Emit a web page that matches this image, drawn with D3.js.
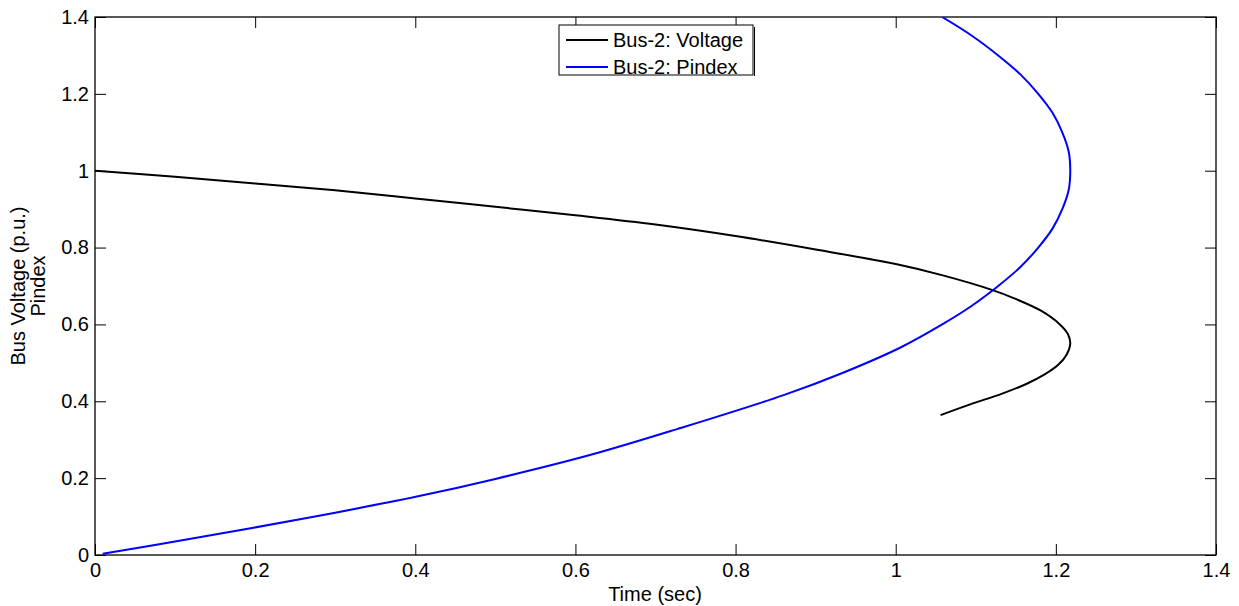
<!DOCTYPE html>
<html>
<head>
<meta charset="utf-8">
<script src="https://cdn.jsdelivr.net/npm/d3@7"></script>
<style>
  html, body { margin: 0; padding: 0; background: #fff; }
  svg { display: block; }
  text { font-family: "Liberation Sans", Arial, Helvetica, sans-serif; }
</style>
</head>
<body>
<svg id="chart" width="1239" height="606"></svg>
<script>
// ---- Data ----
const xTicks = [0, 0.2, 0.4, 0.6, 0.8, 1, 1.2, 1.4];
const yTicks = [0, 0.2, 0.4, 0.6, 0.8, 1, 1.2, 1.4];
const xTickLabels = ["0", "0.2", "0.4", "0.6", "0.8", "1", "1.2", "1.4"];
const yTickLabels = ["0", "0.2", "0.4", "0.6", "0.8", "1", "1.2", "1.4"];

const seriesNames = ["Bus-2: Voltage", "Bus-2: Pindex"];
const seriesColors = ["#000000", "#0000ff"];

const voltageX = [0, 0.1, 0.2, 0.3, 0.4, 0.5, 0.6, 0.7, 0.8, 0.9, 1.0, 1.06, 1.12, 1.148, 1.182, 1.205, 1.215, 1.218, 1.213, 1.203, 1.186, 1.163, 1.133, 1.093, 1.056];
const voltageY = [1.0, 0.984, 0.967, 0.949, 0.928, 0.906, 0.884, 0.860, 0.830, 0.795, 0.757, 0.727, 0.690, 0.668, 0.635, 0.600, 0.575, 0.550, 0.520, 0.495, 0.470, 0.445, 0.420, 0.392, 0.364];

const pindexX = [0.0096, 0.1, 0.198, 0.3, 0.402, 0.5, 0.618, 0.726, 0.86, 0.935, 1.006, 1.058, 1.096, 1.128, 1.156, 1.178, 1.196, 1.208, 1.216, 1.218, 1.216, 1.208, 1.196, 1.178, 1.156, 1.128, 1.096, 1.058];
const pindexY = [0.003, 0.035, 0.071, 0.110, 0.152, 0.198, 0.260, 0.327, 0.416, 0.475, 0.540, 0.600, 0.650, 0.700, 0.750, 0.800, 0.850, 0.900, 0.950, 1.000, 1.050, 1.100, 1.150, 1.200, 1.250, 1.300, 1.350, 1.400];

// ---- Layout ----
const svg = d3.select("#chart");
const L = 95, R = 1216, T = 17, B = 555;
const x = d3.scaleLinear().domain([0, 1.4]).range([L, R]);
const y = d3.scaleLinear().domain([0, 1.4]).range([B, T]);
const tickLen = 11;
const fontSize = 20;

svg.append("defs").append("clipPath").attr("id", "clip")
  .append("rect").attr("x", L).attr("y", T).attr("width", R - L).attr("height", B - T);

// ---- Axes (ticks inward on all four sides) ----
const xAxisB = d3.axisBottom(x).tickValues(xTicks).tickSize(-tickLen).tickPadding(8)
  .tickFormat((d, i) => xTickLabels[i]);
const gxb = svg.append("g").attr("transform", `translate(0,${B})`).call(xAxisB);
const xAxisT = d3.axisTop(x).tickValues(xTicks).tickSize(-tickLen).tickFormat("");
const gxt = svg.append("g").attr("transform", `translate(0,${T})`).call(xAxisT);
const yAxisL = d3.axisLeft(y).tickValues(yTicks).tickSize(-tickLen).tickPadding(6)
  .tickFormat((d, i) => yTickLabels[i]);
const gyl = svg.append("g").attr("transform", `translate(${L},0)`).call(yAxisL);
const yAxisR = d3.axisRight(y).tickValues(yTicks).tickSize(-tickLen).tickFormat("");
const gyr = svg.append("g").attr("transform", `translate(${R},0)`).call(yAxisR);

[gxb, gxt, gyl, gyr].forEach(g => {
  g.select(".domain").remove();
  g.selectAll(".tick line").attr("stroke", "#000").attr("stroke-width", 1);
  g.selectAll(".tick text").attr("fill", "#000").style("font-size", fontSize + "px")
    .style("font-family", "'Liberation Sans', Arial, Helvetica, sans-serif");
});
gxb.selectAll(".tick text").attr("dy", "0.71em");

svg.append("rect").attr("x", L).attr("y", T).attr("width", R - L).attr("height", B - T)
  .attr("fill", "none").attr("stroke", "#000").attr("stroke-width", 1.3);

// ---- Lines ----
const line = d3.line().x(d => x(d[0])).y(d => y(d[1])).curve(d3.curveCatmullRom.alpha(0.5));
const voltage = voltageX.map((v, i) => [v, voltageY[i]]);
const pindex = pindexX.map((v, i) => [v, pindexY[i]]);

const gLines = svg.append("g").attr("clip-path", "url(#clip)");
gLines.append("path").datum(voltage).attr("d", line)
  .attr("fill", "none").attr("stroke", seriesColors[0]).attr("stroke-width", 2);
gLines.append("path").datum(pindex).attr("d", line)
  .attr("fill", "none").attr("stroke", seriesColors[1]).attr("stroke-width", 2);

// ---- Legend ----
const lgX = 559, lgY = 25, lgW = 194, lgH = 50;
svg.append("line").attr("x1", lgX + lgW + 1.5).attr("x2", lgX + lgW + 1.5)
  .attr("y1", lgY + 2).attr("y2", lgY + lgH + 1).attr("stroke", "#000").attr("stroke-width", 1);
svg.append("rect").attr("x", lgX).attr("y", lgY).attr("width", lgW).attr("height", lgH)
  .attr("fill", "#fff").attr("stroke", "#000").attr("stroke-width", 1);
seriesNames.forEach((name, i) => {
  const cy = lgY + 15 + i * 27;
  svg.append("line").attr("x1", lgX + 7).attr("x2", lgX + 49).attr("y1", cy).attr("y2", cy)
    .attr("stroke", seriesColors[i]).attr("stroke-width", 2);
  svg.append("text").attr("x", lgX + 54).attr("y", cy).attr("dy", "0.35em")
    .style("font-size", fontSize + "px").attr("fill", "#000").text(name);
});

// ---- Axis titles ----
svg.append("text").attr("x", 655).attr("y", 601).attr("text-anchor", "middle")
  .style("font-size", fontSize + "px").attr("fill", "#000").text("Time (sec)");
const yl = svg.append("text").attr("transform", `translate(25,${(T + B) / 2}) rotate(-90)`)
  .attr("text-anchor", "middle").style("font-size", fontSize + "px").attr("fill", "#000");
yl.append("tspan").attr("x", 0).attr("dy", "0").text("Bus Voltage (p.u.)");
yl.append("tspan").attr("x", 0).attr("dy", "1.0em").text("Pindex");
</script>
</body>
</html>
